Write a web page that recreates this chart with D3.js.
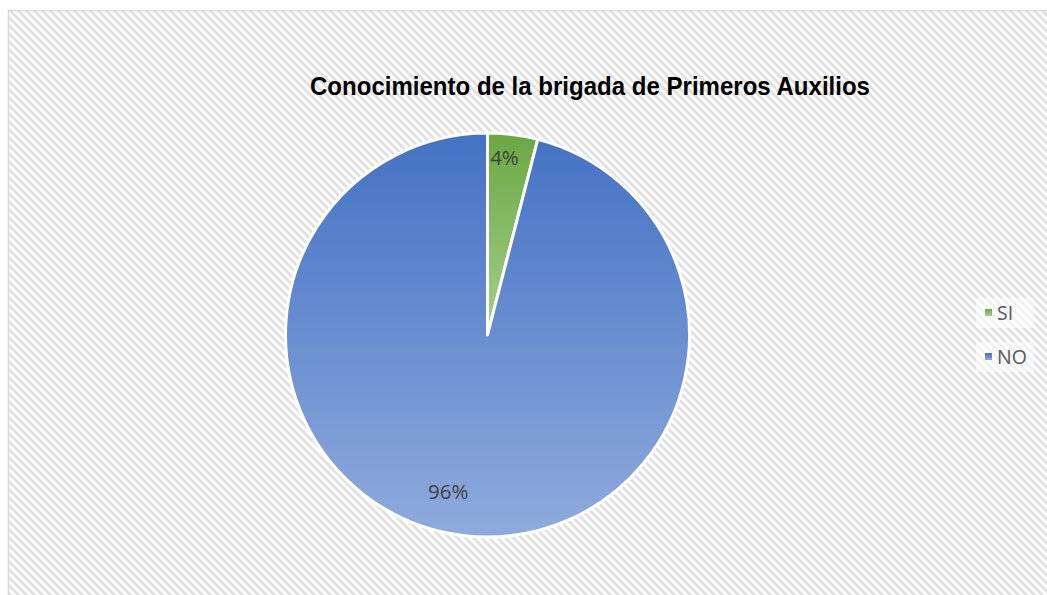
<!DOCTYPE html>
<html>
<head>
<meta charset="utf-8">
<script src="https://cdn.jsdelivr.net/npm/d3@7"></script>
<style>
  html, body { margin: 0; padding: 0; background: #fff; }
  svg { display: block; }
</style>
</head>
<body>
<svg id="chart" width="1047" height="595"></svg>
<script>
var categories = ['SI', 'NO'];
var values = [4, 96];
var labels = ['4%', '96%'];
var title = 'Conocimiento de la brigada de Primeros Auxilios';

var width = 1047, height = 595;
var svg = d3.select('#chart');
var defs = svg.append('defs');

// wide downward diagonal hatch, pixel based like the office pattern
var pat = defs.append('pattern')
  .attr('id', 'hatch')
  .attr('patternUnits', 'userSpaceOnUse')
  .attr('width', 8).attr('height', 8)
  .attr('x', 8).attr('y', 10);
pat.append('rect').attr('width', 8).attr('height', 8).attr('fill', '#fff');
d3.range(8).forEach(function (y) {
  d3.range(8).forEach(function (x) {
    if (((x - y) % 8 + 8) % 8 < 4) {
      pat.append('rect').attr('x', x).attr('y', y).attr('width', 1).attr('height', 1).attr('fill', '#e2e2e2');
    }
  });
});

var fills = {
  SI: ['#6aa843', '#a6cf8c'],
  NO: ['#4472c4', '#8fabdc']
};
categories.forEach(function (c) {
  var g = defs.append('linearGradient')
    .attr('id', 'grad-' + c)
    .attr('x1', 0).attr('y1', 0).attr('x2', 0).attr('y2', 1);
  g.append('stop').attr('offset', '0%').attr('stop-color', fills[c][0]);
  g.append('stop').attr('offset', '100%').attr('stop-color', fills[c][1]);
});

// chart area background + border
svg.append('rect')
  .attr('x', 8.5).attr('y', 10.5)
  .attr('width', width).attr('height', height)
  .attr('fill', 'url(#hatch)')
  .attr('stroke', '#d9d9d9')
  .attr('stroke-width', 1.5);

svg.append('text')
  .attr('x', 590).attr('y', 95)
  .attr('text-anchor', 'middle')
  .attr('textLength', 560)
  .attr('lengthAdjust', 'spacingAndGlyphs')
  .style('font-family', '"Liberation Sans", Arial, sans-serif')
  .style('font-weight', 'bold')
  .style('font-size', '25px')
  .attr('fill', '#000')
  .text(title);

var cx = 487.5, cy = 335, r = 202;
var data = categories.map(function (c, i) { return { cat: c, value: values[i], label: labels[i] }; });

var pie = d3.pie().sort(null).value(function (d) { return d.value; });
var arc = d3.arc().innerRadius(0).outerRadius(r);
var arcs = pie(data);

var g = svg.append('g').attr('transform', 'translate(' + cx + ',' + cy + ')');

g.selectAll('path.slice')
  .data(arcs)
  .enter().append('path')
  .attr('class', 'slice')
  .attr('d', arc)
  .attr('fill', function (d) { return 'url(#grad-' + d.data.cat + ')'; })
  .attr('stroke', '#fff')
  .attr('stroke-width', 3)
  .attr('stroke-linejoin', 'round');

// label placement: radius fraction and angle shift (radians) per slice
var labelPlace = { SI: [0.88, -0.03], NO: [0.8, 0.12] };

g.selectAll('text.lbl')
  .data(arcs)
  .enter().append('text')
  .attr('class', 'lbl')
  .attr('transform', function (d) {
    var pl = labelPlace[d.data.cat];
    var a = (d.startAngle + d.endAngle) / 2 + pl[1];
    var rr = r * pl[0];
    return 'translate(' + (Math.sin(a) * rr) + ',' + (-Math.cos(a) * rr) + ')';
  })
  .attr('text-anchor', 'middle')
  .attr('dy', '0.35em')
  .style('font-family', '"Open Sans", "Noto Sans", sans-serif')
  .style('font-size', '20.5px')
  .attr('fill', '#404040')
  .text(function (d) { return d.data.label; });

// legend
var legend = svg.append('g').attr('transform', 'translate(976,296)');
var item = legend.selectAll('g.item')
  .data(data)
  .enter().append('g')
  .attr('class', 'item')
  .attr('transform', function (d, i) { return 'translate(0,' + (i * 44) + ')'; });

item.append('rect')
  .attr('x', 0).attr('y', 2).attr('width', 58).attr('height', 30)
  .attr('fill', '#fff').attr('opacity', 0.5);
item.append('rect')
  .attr('x', 9).attr('y', 13).attr('width', 7).attr('height', 7)
  .attr('fill', function (d) { return 'url(#grad-' + d.cat + ')'; });
item.append('text')
  .attr('x', 21).attr('y', 17)
  .attr('dy', '0.35em')
  .style('font-family', '"Open Sans", "Noto Sans", sans-serif')
  .style('font-size', '19.5px')
  .attr('fill', '#595959')
  .text(function (d) { return d.cat; });
</script>
</body>
</html>
